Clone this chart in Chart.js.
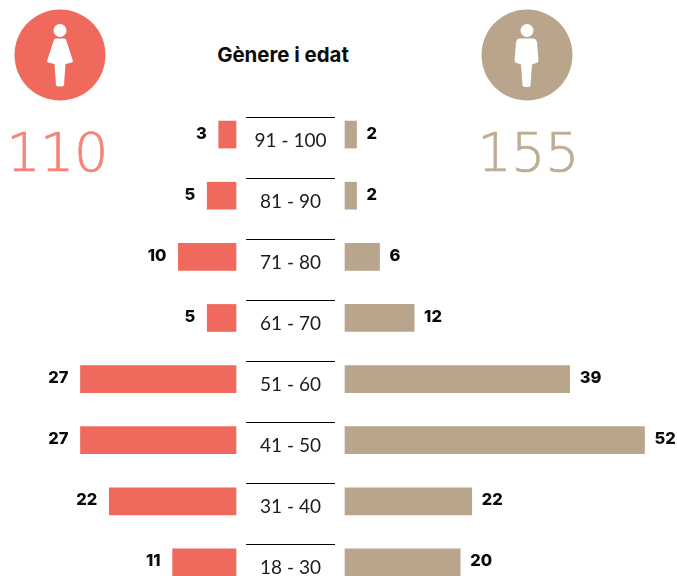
<!DOCTYPE html>
<html lang="ca">
<head>
<meta charset="utf-8">
<title>Gènere i edat</title>
<script src="https://cdn.jsdelivr.net/npm/chart.js@4"></script>
<style>
    html, body { margin: 0; padding: 0; background: #fff; overflow: hidden; }
    #wrap { position: relative; width: 677px; height: 576px; overflow: hidden; }
    #chart { position: absolute; left: 0; top: 0; }
    .icon { position: absolute; top: 9px; width: 92px; height: 92px; }
    .total { position: absolute; top: 118px; width: 120px; text-align: center; font: 200 54px "DejaVu Sans", sans-serif; line-height: 70px; letter-spacing: -0.5px; -webkit-text-stroke: 0.7px currentColor; }
    #title { position: absolute; left: 183px; top: 42px; width: 200px; text-align: center; font: 700 20.400px Inter, sans-serif; line-height: 26px; color: #0c0c0c; }
</style>
</head>
<body>
<div id="wrap">
    <svg class="icon" style="left:14px" viewBox="0 0 92 92">
        <circle cx="46" cy="46" r="45.5" fill="#ef6a5c"/>
        <circle cx="46" cy="21.5" r="6.5" fill="#fff"/>
        <path d="M41.5 29.5h9l1.5 1 7 21.5-1 1.5-6.5 1.5-1.500 21q-.5 1.500-4 1.500t-4-1.500l-1.500-21-6.500-1.500-1-1.500 7-21.500z" fill="#fff"/>
    </svg>
    <svg class="icon" style="left:480.500px" viewBox="0 0 92 92">
        <circle cx="46" cy="46" r="45.500" fill="#b9a58b"/>
        <circle cx="46" cy="21.500" r="6.500" fill="#fff"/>
        <path d="M39.500 29.500h13q3 .5 3.500 4l1.500 18.500-1 1.500-5.500 2-1.500 21q-.3 1.500-4 1.500t-4-1.500l-1.500-21-5.500-2-1-1.500 1.500-18.500q.5-3.500 3.500-4z" fill="#fff"/>
    </svg>
    <div id="title">Gènere i edat</div>
    <div class="total" id="totalDones" style="left:-3px;color:#f4847a"></div>
    <div class="total" id="totalHomes" style="left:468px;color:#bfad95"></div>
    <canvas id="chart" width="677" height="593"></canvas>
</div>
<script>
const ageGroups = ["91 - 100", "81 - 90", "71 - 80", "61 - 70", "51 - 60", "41 - 50", "31 - 40", "18 - 30"];
const women = [3, 5, 10, 5, 27, 27, 22, 11];
const men = [2, 2, 6, 12, 39, 52, 22, 20];
const totalWomen = 110;
const totalMen = 155;

const WOMEN_COLOR = "#ef6a5c";
const MEN_COLOR = "#b9a58b";

// px per person, same on both sides
const UNIT = 5.76;
const WOMEN_ZERO = 236;
const MEN_ZERO = 345;
const WIDTH = 677;

document.getElementById("totalDones").textContent = totalWomen;
document.getElementById("totalHomes").textContent = totalMen;

// center column: rule above each age group and the age label under it
const centerColumn = {
    id: "centerColumn",
    afterDatasetsDraw(chart) {
        const ctx = chart.ctx;
        const y = chart.scales.y;
        ctx.save();
        ctx.textAlign = "center";
        ctx.textBaseline = "middle";
        ctx.font = "400 19px Lato, sans-serif";
        ageGroups.forEach((label, i) => {
            const py = Math.round(y.getPixelForValue(i));
            ctx.fillStyle = "#000";
            ctx.fillRect(246, py - 18, 89, 1);
            ctx.fillStyle = "#1c1c1c";
            ctx.fillText(label, 290.5, py + 6);
        });
        ctx.restore();
    },
};

// value next to the end of each bar
const valueLabels = {
    id: "valueLabels",
    afterDatasetsDraw(chart) {
        const ctx = chart.ctx;
        ctx.save();
        ctx.fillStyle = "#0a0a0a";
        ctx.font = "800 16.500px Inter, sans-serif";
        ctx.textBaseline = "middle";
        chart.data.datasets.forEach((dataset, d) => {
            const left = d === 0;
            ctx.textAlign = left ? "right" : "left";
            chart.getDatasetMeta(d).data.forEach((bar, i) => {
                ctx.fillText(dataset.data[i], bar.x + (left ? -12 : 10), bar.y - 1);
            });
        });
        ctx.restore();
    },
};

new Chart(document.getElementById("chart").getContext("2d"), {
    type: "bar",

    data: {
        labels: ageGroups,

        datasets: [
            {
                label: "Dones",
                data: women,
                xAxisID: "xWomen",
                backgroundColor: WOMEN_COLOR,
            },
            {
                label: "Homes",
                data: men,
                xAxisID: "xMen",
                backgroundColor: MEN_COLOR,
            },
        ],
    },

    plugins: [centerColumn, valueLabels],

    options: {
        indexAxis: "y",
        responsive: false,
        animation: false,
        layout: {
            padding: { top: 104, left: 0, right: 0, bottom: 0 },
        },
        datasets: {
            bar: {
                grouped: false,
                barThickness: 27,
                borderWidth: 0,
            },
        },
        scales: {
            y: {
                display: false,
                type: "category",
            },
            xWomen: {
                display: false,
                type: "linear",
                axis: "x",
                reverse: true,
                min: (WOMEN_ZERO - WIDTH) / UNIT,
                max: WOMEN_ZERO / UNIT,
            },
            xMen: {
                display: false,
                type: "linear",
                axis: "x",
                min: -MEN_ZERO / UNIT,
                max: (WIDTH - MEN_ZERO) / UNIT,
            },
        },
        plugins: {
            legend: { display: false },
            tooltip: { enabled: false },
            title: { display: false },
        },
    },
});
</script>
</body>
</html>
